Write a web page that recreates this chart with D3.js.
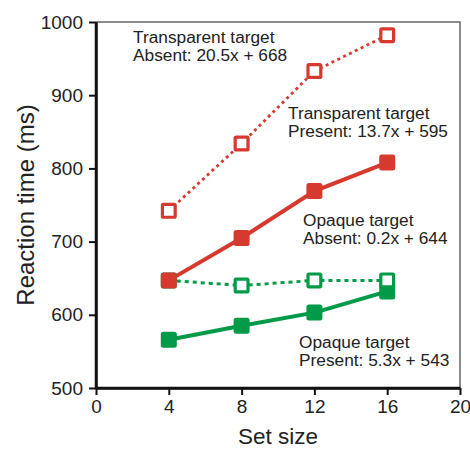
<!DOCTYPE html>
<html>
<head>
<meta charset="utf-8">
<script src="https://cdn.jsdelivr.net/npm/d3@7"></script>
<style>
  html, body { margin: 0; padding: 0; background: #fff; }
  svg { display: block; font-family: "Liberation Sans", Arial, sans-serif; }
</style>
</head>
<body>
<svg id="chart" width="470" height="450"></svg>
<script>
const setSizes = [4, 8, 12, 16];
const transparentAbsent = [742, 834, 933, 982];
const transparentPresent = [647, 705, 769, 808];
const opaqueAbsent = [647, 640, 647, 647];
const opaquePresent = [566, 585, 603, 632];
const xTicks = [0, 4, 8, 12, 16, 20];
const yTicks = [500, 600, 700, 800, 900, 1000];

const RED = "#d63a2f";
const GREEN = "#009a48";

const svg = d3.select("#chart");
const m = { left: 96, right: 460, top: 22, bottom: 388 };
const x = d3.scaleLinear().domain([0, 20]).range([m.left, m.right]);
const y = d3.scaleLinear().domain([500, 1000]).range([m.bottom, m.top]);

// frame (top, right)
svg.append("path")
  .attr("d", `M${m.left},${m.top}H${m.right}V${m.bottom}`)
  .attr("fill", "none").attr("stroke", "#666").attr("stroke-width", 1.5);

// axes
const xAxis = svg.append("g").attr("transform", `translate(0,${m.bottom})`)
  .call(d3.axisBottom(x).tickValues(xTicks).tickFormat(d3.format("d")).tickSize(7).tickPadding(5).tickSizeOuter(0));
const yAxis = svg.append("g").attr("transform", `translate(${m.left},0)`)
  .call(d3.axisLeft(y).tickValues(yTicks).tickFormat(d3.format("d")).tickSize(7).tickPadding(6).tickSizeOuter(0));
[xAxis, yAxis].forEach(a => {
  a.select(".domain").attr("stroke", "#111").attr("stroke-width", 2.5);
  a.selectAll(".tick line").attr("stroke", "#111").attr("stroke-width", 2);
  a.selectAll(".tick text").attr("fill", "#222").style("font-size", "19px")
    .style("font-family", "'Liberation Sans', Arial, sans-serif");
});
svg.append("path").attr("d", `M${m.left},${m.top}V${m.bottom}H${m.right}`)
  .attr("fill", "none").attr("stroke", "#111").attr("stroke-width", 2.5);

// axis titles
svg.append("text").attr("x", 278).attr("y", 444).attr("text-anchor", "middle")
  .attr("fill", "#222").style("font-size", "22.5px").text("Set size");
svg.append("text").attr("transform", `translate(34,205) rotate(-90)`)
  .attr("text-anchor", "middle").attr("fill", "#222").style("font-size", "24px")
  .text("Reaction time (ms)");

const line = d3.line().x((d, i) => x(setSizes[i])).y(d => y(d));

const series = [
  { v: opaqueAbsent, c: GREEN, dash: "4,4", w: 3 },
  { v: transparentAbsent, c: RED, dash: "3,3.5", w: 2.8 },
  { v: opaquePresent, c: GREEN, dash: null, w: 4 },
  { v: transparentPresent, c: RED, dash: null, w: 4 },
];
series.forEach(s => {
  svg.append("path").datum(s.v).attr("d", line)
    .attr("fill", "none").attr("stroke", s.c).attr("stroke-width", s.w)
    .attr("stroke-dasharray", s.dash);
});

const S = 16;
function markers(vals, color, open) {
  svg.append("g").selectAll("rect").data(vals).join("rect")
    .attr("x", (d, i) => x(setSizes[i]) - (open ? S / 2 - 1.6 : S / 2))
    .attr("y", d => y(d) - (open ? S / 2 - 1.6 : S / 2))
    .attr("width", open ? S - 3.2 : S).attr("height", open ? S - 3.2 : S)
    .attr("rx", open ? 1 : 2.5)
    .attr("fill", open ? "#fff" : color)
    .attr("stroke", open ? color : "none")
    .attr("stroke-width", open ? 3.2 : 0);
}
markers(opaquePresent, GREEN, false);
markers(opaqueAbsent, GREEN, true);
markers(transparentPresent, RED, false);
markers(transparentAbsent, RED, true);

// annotations
const notes = [
  { x: 133, y: 42.5, lines: ["Transparent target", "Absent: 20.5x + 668"] },
  { x: 288, y: 118.5, lines: ["Transparent target", "Present: 13.7x + 595"] },
  { x: 303, y: 225.5, lines: ["Opaque target", "Absent: 0.2x + 644"] },
  { x: 299, y: 347.5, lines: ["Opaque target", "Present: 5.3x + 543"] },
];
notes.forEach(n => {
  const t = svg.append("text").attr("fill", "#222").style("font-size", "17.3px");
  n.lines.forEach((l, i) => t.append("tspan").attr("x", n.x).attr("y", n.y + i * 18.2).text(l));
});
</script>
</body>
</html>
